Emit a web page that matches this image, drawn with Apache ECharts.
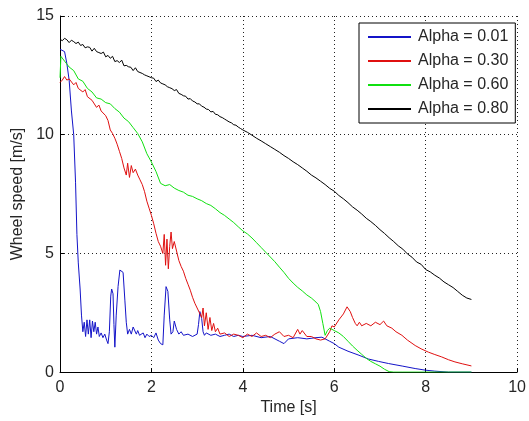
<!DOCTYPE html>
<html>
<head>
<meta charset="utf-8">
<script src="https://cdn.jsdelivr.net/npm/echarts@6/dist/echarts.min.js"></script>
<style>
html,body{margin:0;padding:0;background:#fff;}
#chart{width:529px;height:421px;}
</style>
</head>
<body>
<div id="chart"></div>
<script>
var seriesNames = ['Alpha = 0.01', 'Alpha = 0.30', 'Alpha = 0.60', 'Alpha = 0.80'];
var xTicks = [0, 2, 4, 6, 8, 10];
var yTicks = [0, 5, 10, 15];

var t001 = [0.00,0.10,0.15,0.20,0.25,0.30,0.34,0.37,0.40,0.44,0.47,0.50,0.53,0.56,0.59,0.62,0.65,0.68,0.71,0.74,0.77,0.80,0.83,0.86,0.90,0.94,0.98,1.02,1.05,1.08,1.11,1.13,1.16,1.18,1.20,1.23,1.27,1.31,1.34,1.38,1.42,1.45,1.48,1.52,1.56,1.60,1.63,1.67,1.70,1.74,1.78,1.82,1.86,1.90,1.95,2.00,2.05,2.10,2.15,2.20,2.25,2.28,2.32,2.36,2.40,2.43,2.47,2.50,2.55,2.60,2.65,2.70,2.80,2.90,3.00,3.03,3.06,3.10,3.13,3.16,3.20,3.30,3.40,3.50,3.60,3.70,3.80,3.90,4.00,4.20,4.40,4.60,4.80,4.90,5.00,5.20,5.40,5.60,5.73,5.80,5.90,6.00,6.10,6.30,6.54,6.75,6.97,7.19,7.50,7.77,8.00,8.20,8.50,9.00];
var v001 = [13.6,13.5,13.0,12.3,11.0,10.0,8.0,5.8,4.6,3.5,2.4,1.7,2.1,1.5,2.2,1.6,2.2,1.45,2.15,1.7,2.1,1.6,1.9,1.5,1.65,1.45,1.6,1.35,1.2,1.7,3.2,3.5,3.3,2.0,1.05,2.4,3.6,4.3,4.37,4.2,3.0,2.1,1.6,1.8,1.6,1.9,1.85,1.6,1.75,1.55,1.5,1.65,1.45,1.6,1.5,1.55,1.45,1.65,1.35,1.2,1.15,2.4,3.6,3.4,2.2,1.6,1.7,2.15,1.8,1.6,1.7,1.55,1.6,1.5,1.6,2.0,2.55,2.25,1.7,1.55,1.65,1.55,1.6,1.5,1.55,1.6,1.5,1.55,1.5,1.55,1.45,1.5,1.3,1.2,1.4,1.45,1.4,1.45,1.47,1.4,1.3,1.2,1.05,0.88,0.71,0.55,0.45,0.36,0.25,0.15,0.08,0.04,0.0,0.0];

var t030 = [0.00,0.05,0.10,0.15,0.20,0.30,0.35,0.40,0.50,0.55,0.60,0.70,0.80,0.85,0.90,1.00,1.05,1.10,1.15,1.20,1.25,1.30,1.35,1.40,1.45,1.48,1.52,1.56,1.60,1.65,1.70,1.75,1.80,1.85,1.90,1.95,2.00,2.05,2.10,2.15,2.20,2.25,2.28,2.31,2.34,2.37,2.40,2.43,2.46,2.50,2.55,2.60,2.65,2.70,2.75,2.80,2.85,2.90,2.95,3.00,3.05,3.10,3.13,3.16,3.20,3.24,3.28,3.32,3.36,3.40,3.45,3.50,3.60,3.70,3.80,3.90,4.00,4.10,4.20,4.30,4.40,4.50,4.60,4.70,4.80,4.90,5.00,5.10,5.20,5.25,5.30,5.40,5.50,5.60,5.70,5.80,5.90,5.95,6.00,6.10,6.20,6.28,6.35,6.40,6.46,6.50,6.55,6.60,6.70,6.80,6.90,7.00,7.08,7.15,7.26,7.35,7.48,7.60,7.77,7.90,8.06,8.20,8.35,8.50,8.64,8.80,9.00];
var v030 = [12.2,12.3,12.45,12.3,12.35,12.1,12.2,11.95,11.8,11.9,11.6,11.45,11.15,11.25,11.0,10.8,10.6,10.2,10.05,9.85,9.6,9.3,9.0,8.6,8.3,8.8,8.2,8.7,8.4,8.55,8.3,8.1,7.9,7.6,7.2,6.9,6.6,6.25,5.85,5.5,5.3,5.0,5.8,4.5,5.6,4.35,5.3,5.9,5.2,5.5,5.1,4.7,4.45,4.25,3.95,3.7,3.45,3.15,2.9,2.7,2.5,2.3,2.7,1.95,2.5,1.8,2.3,1.75,2.05,1.7,1.85,1.6,1.65,1.5,1.6,1.55,1.45,1.6,1.5,1.65,1.5,1.55,1.45,1.6,1.7,1.5,1.55,1.45,1.8,1.6,1.75,1.5,1.5,1.4,1.35,1.4,1.7,1.95,1.9,2.2,2.45,2.75,2.55,2.3,2.05,1.95,2.1,1.95,2.05,1.95,2.1,2.0,2.15,1.95,1.85,1.7,1.55,1.35,1.12,0.98,0.84,0.74,0.64,0.52,0.43,0.35,0.26];

var t060 = [0.00,0.02,0.10,0.20,0.30,0.40,0.50,0.60,0.70,0.80,0.90,1.00,1.10,1.20,1.30,1.40,1.50,1.60,1.70,1.80,1.90,2.00,2.10,2.20,2.30,2.40,2.50,2.60,2.70,2.80,2.90,3.00,3.10,3.20,3.30,3.40,3.50,3.60,3.70,3.80,3.90,4.00,4.10,4.20,4.30,4.40,4.50,4.60,4.70,4.80,4.90,5.00,5.10,5.20,5.30,5.40,5.50,5.60,5.65,5.70,5.75,5.80,5.85,5.90,6.00,6.10,6.20,6.30,6.40,6.50,6.60,6.70,6.80,6.90,7.00,7.10,7.20,7.30,7.50,8.00,8.50,9.00];
var v060 = [12.4,13.3,13.1,12.85,12.7,12.35,12.25,11.95,11.8,11.55,11.5,11.35,11.3,11.1,10.95,10.7,10.55,10.3,10.05,9.7,9.2,8.85,8.45,7.95,7.85,7.9,7.75,7.65,7.58,7.45,7.4,7.3,7.22,7.1,7.02,6.88,6.72,6.6,6.45,6.3,6.12,5.95,5.82,5.65,5.45,5.25,5.05,4.85,4.65,4.42,4.2,3.95,3.75,3.57,3.42,3.25,3.12,2.95,2.85,2.55,2.05,1.55,1.75,1.85,1.75,1.65,1.5,1.3,1.1,0.92,0.75,0.58,0.45,0.35,0.25,0.12,0.02,0.0,0.0,0.0,0.0,0.0];

var t080 = [0.00,0.05,0.10,0.15,0.20,0.25,0.30,0.35,0.40,0.45,0.50,0.55,0.60,0.65,0.70,0.75,0.80,0.85,0.90,0.95,1.00,1.05,1.10,1.15,1.20,1.25,1.30,1.35,1.40,1.45,1.50,1.55,1.60,1.65,1.70,1.75,1.80,1.85,1.90,1.95,2.00,2.05,2.10,2.15,2.20,2.25,2.30,2.35,2.40,2.45,2.50,2.55,2.60,2.65,2.70,2.75,2.80,2.85,2.90,2.95,3.00,3.05,3.10,3.15,3.20,3.25,3.30,3.35,3.40,3.45,3.50,3.55,3.60,3.65,3.70,3.75,3.80,3.85,3.90,3.95,4.0,4.1,4.2,4.3,4.4,4.5,4.6,4.7,4.8,4.9,5.0,5.1,5.2,5.3,5.4,5.5,5.6,5.7,5.8,5.9,6.0,6.1,6.2,6.3,6.4,6.5,6.6,6.7,6.8,6.9,7.0,7.1,7.2,7.3,7.4,7.5,7.6,7.7,7.8,7.9,8.0,8.1,8.2,8.3,8.4,8.5,8.6,8.7,8.8,8.9,9.0];
var v080 = [14.02,13.96,14.06,14.00,13.88,13.98,13.92,13.84,13.90,13.76,13.80,13.66,13.70,13.68,13.52,13.64,13.50,13.46,13.42,13.48,13.28,13.34,13.22,13.30,13.08,13.12,13.04,13.14,12.90,12.92,12.86,12.84,12.70,12.82,12.66,12.62,12.58,12.52,12.48,12.44,12.40,12.38,12.24,12.30,12.18,12.14,12.10,12.02,11.98,11.94,11.86,11.90,11.74,11.70,11.64,11.62,11.50,11.52,11.42,11.38,11.30,11.30,11.20,11.16,11.08,11.06,10.96,10.98,10.86,10.84,10.76,10.72,10.66,10.60,10.54,10.50,10.42,10.40,10.32,10.26,10.20,10.10,9.98,9.85,9.74,9.62,9.50,9.38,9.26,9.12,9.00,8.86,8.74,8.60,8.46,8.30,8.18,8.04,7.90,7.74,7.62,7.44,7.30,7.14,6.96,6.82,6.66,6.48,6.34,6.18,6.00,5.84,5.66,5.50,5.32,5.18,4.98,4.84,4.64,4.54,4.32,4.22,4.08,3.96,3.80,3.68,3.56,3.40,3.24,3.12,3.06];

var colors = ['#1414c8', '#e01010', '#10e010', '#000000'];

function pairs(t, v) { return t.map(function (x, i) { return [x, v[i]]; }); }
var allT = [t001, t030, t060, t080];
var allV = [v001, v030, v060, v080];

var chart = echarts.init(document.getElementById('chart'), null, {renderer: 'canvas'});
var font = 'Arial, "Liberation Sans", sans-serif';
var axisCommon = {
  axisLine: {show: true, onZero: false, lineStyle: {color: '#000', width: 1}},
  axisTick: {show: true, inside: true, length: 4, lineStyle: {color: '#000'}},
  splitLine: {show: true, lineStyle: {color: '#222', width: 1, type: [1, 3]}},
  axisLabel: {color: '#262626', fontSize: 16, fontFamily: font},
  nameTextStyle: {color: '#262626', fontSize: 16, fontFamily: font}
};
chart.setOption({
  animation: false,
  backgroundColor: '#fff',
  color: colors,
  grid: {left: 60, right: 10, top: 16, bottom: 44, containLabel: false},
  legend: {
    data: seriesNames,
    orient: 'vertical',
    left: 359, top: 23,
    padding: [6, 7, 6, 8],
    itemWidth: 43, itemHeight: 14, itemGap: 8,
    backgroundColor: '#fff',
    borderColor: '#000', borderWidth: 1,
    itemStyle: {opacity: 0},
    textStyle: {color: '#262626', fontSize: 16, fontFamily: font, padding: [0, 0, 0, 2]}
  },
  xAxis: Object.assign({}, axisCommon, {
    type: 'value', min: xTicks[0], max: xTicks[xTicks.length - 1], interval: 2,
    name: 'Time [s]', nameLocation: 'middle', nameGap: 26,
    axisLabel: Object.assign({}, axisCommon.axisLabel, {margin: 7})
  }),
  yAxis: Object.assign({}, axisCommon, {
    type: 'value', min: yTicks[0], max: yTicks[yTicks.length - 1], interval: 5,
    name: 'Wheel speed [m/s]', nameLocation: 'middle', nameGap: 30,
    axisLabel: Object.assign({}, axisCommon.axisLabel, {margin: 6})
  }),
  series: seriesNames.map(function (n, i) {
    return {
      name: n, type: 'line', symbol: 'none', showSymbol: false,
      data: pairs(allT[i], allV[i]),
      lineStyle: {width: 1, color: colors[i]},
      itemStyle: {color: colors[i]},
      z: i === 3 ? 1 : 2
    };
  })
});
</script>
</body>
</html>
